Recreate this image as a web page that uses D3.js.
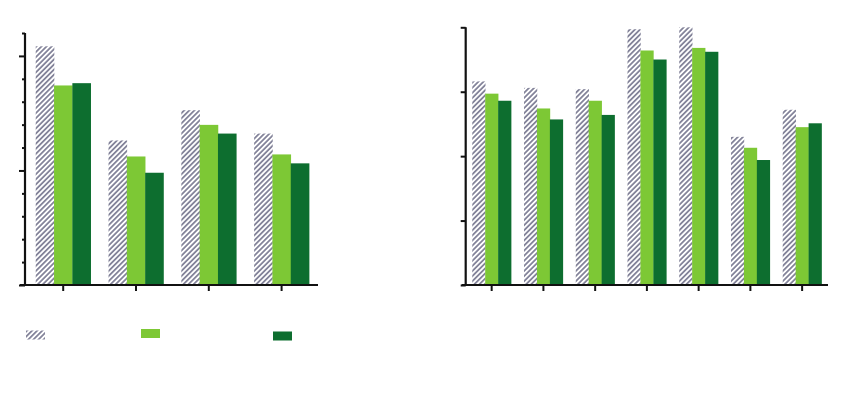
<!DOCTYPE html>
<html lang="en">
<head>
    <meta charset="UTF-8">
    <title>Grouped bars</title>
    <script src="https://d3js.org/d3.v7.min.js"></script>
    <style>
        body { margin: 0; padding: 0; background: #fff; }
        svg { display: block; }
    </style>
</head>
<body>
<script>
    // left panel: 4 groups, axis 0..11
    const leftGroups = ["A", "B", "C", "D"];
    const leftGray  = [10.42, 6.31, 7.63, 6.61];
    const leftLight = [8.71, 5.61, 6.99, 5.70];
    const leftDark  = [8.81, 4.90, 6.61, 5.31];

    // right panel: 7 groups, axis 0..4
    const rightGroups = ["1", "2", "3", "4", "5", "6", "7"];
    const rightGray  = [3.16, 3.06, 3.04, 3.97, 4.00, 2.30, 2.72];
    const rightLight = [2.97, 2.74, 2.86, 3.64, 3.68, 2.13, 2.45];
    const rightDark  = [2.86, 2.57, 2.64, 3.50, 3.62, 1.94, 2.51];

    const seriesNames = ["gray", "light", "dark"];

    const svg = d3.select("body").append("svg")
        .attr("width", 857)
        .attr("height", 406);

    // hatch pattern for the grey series
    const defs = svg.append("defs");
    const pat = defs.append("pattern")
        .attr("id", "hatch")
        .attr("patternUnits", "userSpaceOnUse")
        .attr("width", 3.6)
        .attr("height", 3.6)
        .attr("patternTransform", "rotate(45)");
    pat.append("rect").attr("width", 3.6).attr("height", 3.6).attr("fill", "#fff");
    pat.append("rect").attr("width", 1.8).attr("height", 3.6).attr("fill", "#84849a");

    const fills = {gray: "url(#hatch)", light: "#7dc835", dark: "#0d6e2f"};

    function panel(opts) {
        const g = svg.append("g");
        const rows = opts.groups.map((name, i) => ({
            name,
            gray: opts.gray[i],
            light: opts.light[i],
            dark: opts.dark[i]
        }));

        const x = d3.scaleBand()
            .domain(opts.groups)
            .range([opts.x0, opts.x1])
            .paddingInner(opts.pad)
            .paddingOuter(opts.pad / 2);
        const xs = d3.scaleBand()
            .domain(seriesNames)
            .range([0, x.bandwidth()]);
        const y = d3.scaleLinear()
            .domain([0, opts.max])
            .range([opts.base, opts.top]);

        g.selectAll("g.grp").data(rows).join("g")
            .attr("class", "grp")
            .attr("transform", d => `translate(${x(d.name)},0)`)
            .selectAll("rect")
            .data(d => seriesNames.map(k => ({k, v: d[k]})))
            .join("rect")
            .attr("x", d => xs(d.k))
            .attr("width", xs.bandwidth() + 0.3)
            .attr("y", d => y(d.v))
            .attr("height", d => y(0) - y(d.v))
            .attr("fill", d => fills[d.k]);

        // y axis: minor ticks + optional longer major ticks
        const yAxis = d3.axisLeft(y)
            .tickValues(d3.range(0, opts.max + 1, 1))
            .tickSize(opts.minorTick)
            .tickFormat("");
        const ya = g.append("g")
            .attr("transform", `translate(${opts.axisX},0)`)
            .call(yAxis);
        if (opts.major) {
            ya.selectAll(".tick line")
                .attr("x2", d => opts.major.includes(d) ? -6 : -opts.minorTick);
        }
        ya.select(".domain").attr("d", `M0,${opts.top}V${opts.base}`);

        // x axis
        const xa = g.append("g")
            .attr("transform", `translate(0,${opts.base})`)
            .call(d3.axisBottom(x).tickSize(6).tickFormat(""));
        xa.select(".domain").attr("d", `M${opts.axisL},0H${opts.x1}`);

        g.selectAll(".domain").attr("stroke", "#111").attr("stroke-width", 2.2);
        g.selectAll(".tick line").attr("stroke", "#111").attr("stroke-width", 2);
    }

    panel({
        groups: leftGroups, gray: leftGray, light: leftLight, dark: leftDark,
        x0: 26.8, x1: 318, pad: 0.245, max: 11,
        base: 285, top: 33, axisX: 25, axisL: 20,
        minorTick: 3, major: [0, 5, 10]
    });

    panel({
        groups: rightGroups, gray: rightGray, light: rightLight, dark: rightDark,
        x0: 465.8, x1: 828, pad: 0.25, max: 4,
        base: 285, top: 27.3, axisX: 465.7, axisL: 461.7,
        minorTick: 5
    });

    // legend swatches (no text in the source)
    const legend = [
        {k: "gray", x: 26, y: 330.5},
        {k: "light", x: 141, y: 329},
        {k: "dark", x: 273, y: 331.5}
    ];
    svg.append("g").selectAll("rect").data(legend).join("rect")
        .attr("x", d => d.x)
        .attr("y", d => d.y)
        .attr("width", 19)
        .attr("height", 9)
        .attr("fill", d => fills[d.k]);
</script>
</body>
</html>
